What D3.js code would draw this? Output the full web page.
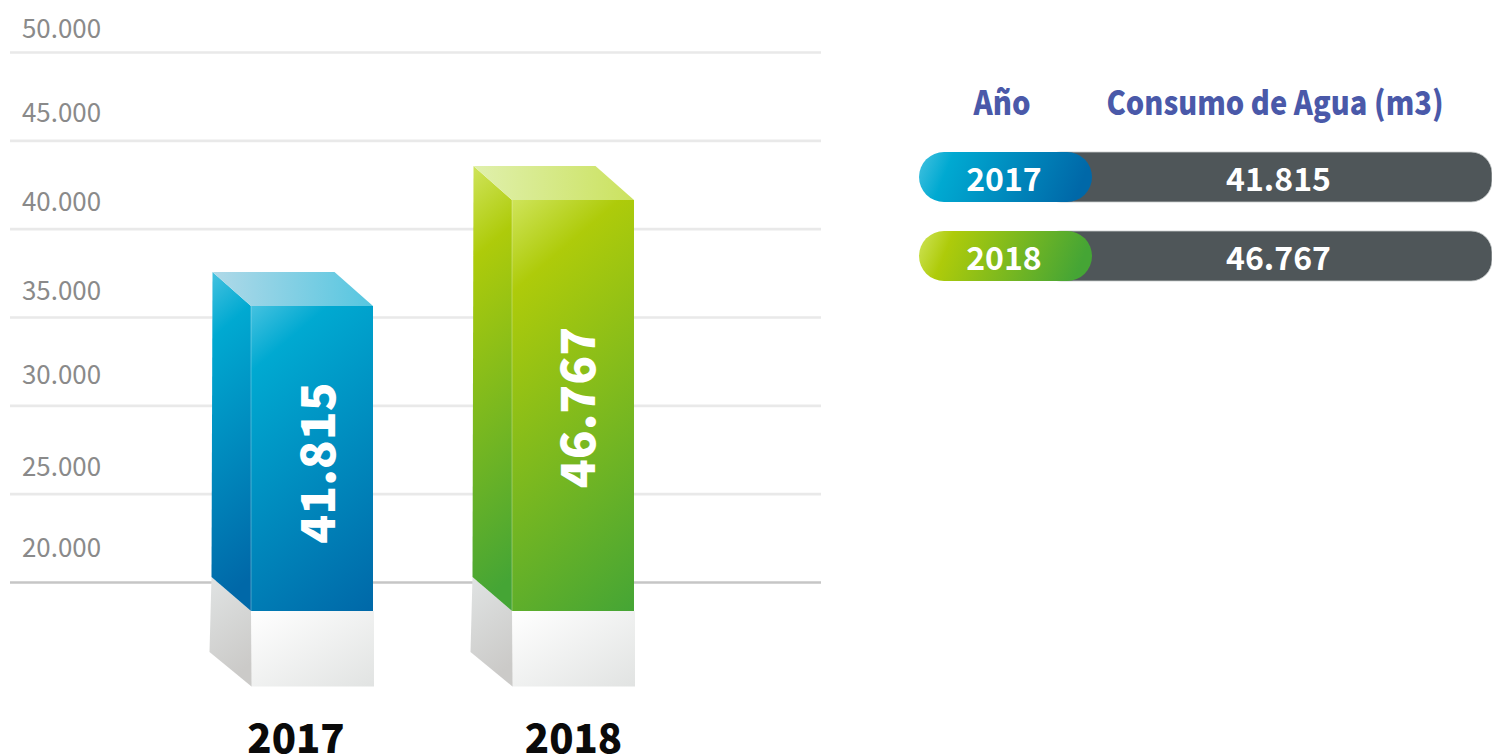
<!DOCTYPE html>
<html><head><meta charset="utf-8">
<script src="https://cdn.jsdelivr.net/npm/d3@7/dist/d3.min.js"></script>
<style>
html,body{margin:0;padding:0;background:#fff;overflow:hidden}
svg{display:block}
text{font-family:"Noto Sans CJK SC","Noto Sans",sans-serif}
</style></head><body>
<script>
const years = ["2017", "2018"];
const consumption = [41815, 46767];
const axisTicks = [20000, 25000, 30000, 35000, 40000, 45000, 50000];
const tableHeaders = ["Año", "Consumo de Agua (m3)"];

const W = 1492, H = 756;
const svg = d3.select("body").append("svg").attr("width", W).attr("height", H);
const defs = svg.append("defs");
const fmt = d3.formatLocale({decimal: ",", thousands: ".", grouping: [3], currency: ["", ""]}).format(",");

function grad(id, stops, x2 = 1, y2 = 1) {
  const g = defs.append("linearGradient").attr("id", id)
    .attr("x1", 0).attr("y1", 0).attr("x2", x2).attr("y2", y2);
  stops.forEach(([o, c]) => g.append("stop").attr("offset", o).attr("stop-color", c));
}
// gradient in page space, running from a corner along a fixed slanted direction
function slantGrad(id, colors, x0, y0, w, h, midDist) {
  const ux = 0.65, uy = 0.76, len = w * ux + h * uy;
  const g = defs.append("linearGradient").attr("id", id).attr("gradientUnits", "userSpaceOnUse")
    .attr("x1", x0).attr("y1", y0).attr("x2", x0 + ux * len).attr("y2", y0 + uy * len);
  [[0, colors[0]], [midDist / len, colors[1]], [1, colors[2]]].forEach(([o, c]) =>
    g.append("stop").attr("offset", o).attr("stop-color", c));
}
const palette = [
  {front: ["#45c2e0", "#00a9d1", "#0068a8"], top: ["#b0d9e8", "#55c6e0"], mid: 50},
  {front: ["#cfe45a", "#aecb0a", "#45a535"], top: ["#e0f0ad", "#cbe25f"], mid: 70}
];
palette.forEach((p, i) => {
  grad("top" + i, [[0, p.top[0]], [1, p.top[1]]], 1, 0);
  grad("pill" + i, [[0, p.front[0]], [0.2, p.front[1]], [1, p.front[2]]], 1, 0.12);
});
grad("plinthFront", [[0, "#ffffff"], [1, "#e1e3e2"]]);
grad("plinthSide", [[0, "#e0e3e3"], [1, "#cbcac8"]], 0.3, 1);

// axis: gridlines with labels sitting above each line
const y = d3.scaleLinear().domain([20000, 50000]).range([582, 52]);
const labelY = d3.scaleOrdinal().domain(axisTicks).range([545, 464, 372, 288, 199, 110, 26]);
const axis = svg.append("g").attr("transform", "translate(10,0)")
  .call(d3.axisRight(y).tickValues(axisTicks).tickSize(811).tickFormat(fmt));
axis.select(".domain").remove();
axis.selectAll(".tick line").attr("stroke", d => d === 20000 ? "#c6c6c6" : "#e9e9e9").attr("stroke-width", 2.6);
axis.selectAll(".tick text")
  .attr("x", 12).attr("text-anchor", "start").attr("dy", 0)
  .attr("y", function (d) { return labelY(d) - y(d); })
  .attr("dominant-baseline", "central")
  .attr("fill", "#8a8a8a").style("font-size", "25.9px").style("font-family", '"Noto Sans CJK SC"');

// pictorial bars: value → top of the front face
const barTop = d3.scaleLinear().domain(consumption).range([306, 200]);
const barX = d3.scaleOrdinal().domain(years).range([251, 512]);
const barW = 122, barBase = 611, plinthBase = 686.5, dx = 38.5, dy = 34;
const poly = pts => pts.map(p => p.join(",")).join(" ");

const bars = svg.selectAll("g.bar").data(years).join("g").attr("class", "bar");
bars.each(function (yr, i) {
  const g = d3.select(this), x = barX(yr), t = barTop(consumption[i]), p = palette[i];
  slantGrad("front" + i, p.front, x, t, barW, barBase - t, p.mid);
  slantGrad("side" + i, p.front, x - dx, t - dy, dx, barBase - t, p.mid);
  g.append("polygon").attr("points", poly([[x, barBase], [x + barW + 1, barBase], [x + barW + 1, plinthBase], [x, plinthBase]]))
    .attr("fill", "url(#plinthFront)");
  g.append("polygon").attr("points", poly([[x - dx - 1, barBase - dy], [x, barBase], [x + 0.5, plinthBase], [x - dx - 3, plinthBase - 34.5]]))
    .attr("fill", "url(#plinthSide)");
  g.append("polygon").attr("points", poly([[x - dx, t - dy], [x, t], [x, barBase], [x - dx - 1, barBase - dy]]))
    .attr("fill", `url(#side${i})`);
  g.append("polygon").attr("points", poly([[x - dx, t - dy], [x + barW - dx, t - dy], [x + barW, t], [x, t]]))
    .attr("fill", `url(#top${i})`);
  g.append("rect").attr("x", x).attr("y", t).attr("width", barW).attr("height", barBase - t)
    .attr("fill", `url(#front${i})`);
  g.append("line").attr("x1", x).attr("x2", x).attr("y1", t).attr("y2", barBase)
    .attr("stroke", "#fff").attr("stroke-opacity", 0.3).attr("stroke-width", 1);
  const labelCy = [463, 407.5][i], labelCx = x + [63, 62][i];
  g.append("text").attr("transform", `translate(${labelCx},${labelCy}) rotate(-90)`)
    .attr("text-anchor", "middle").attr("dominant-baseline", "central")
    .attr("fill", "#fff").attr("font-weight", 900).attr("font-size", 47.5).text(fmt(consumption[i]));
});
svg.selectAll("text.cat").data(years).join("text").attr("class", "cat")
  .attr("x", (d, i) => [296, 573.5][i]).attr("y", 735.5)
  .attr("text-anchor", "middle").attr("dominant-baseline", "central")
  .attr("fill", "#0a0a0a").attr("font-weight", 900).attr("font-size", 40).text(d => d);

// table
const rowY = d3.scalePoint().domain(years).range([177, 256]);
svg.selectAll("text.hdr").data(tableHeaders).join("text").attr("class", "hdr")
  .attr("x", (d, i) => [1002, 1275][i]).attr("y", 101)
  .attr("text-anchor", "middle").attr("dominant-baseline", "central")
  .attr("fill", "#4a59a9").attr("font-weight", 900).attr("font-size", 33)
  .attr("textLength", (d, i) => [57, 337][i]).attr("lengthAdjust", "spacingAndGlyphs").text(d => d);
const rows = svg.selectAll("g.row").data(years).join("g").attr("class", "row");
rows.each(function (yr, i) {
  const g = d3.select(this), cy = rowY(yr);
  g.append("rect").attr("x", 1040).attr("y", cy - 25).attr("width", 452).attr("height", 50).attr("rx", 21)
    .attr("fill", "#4f5659").attr("stroke", "#c9cdcd").attr("stroke-width", 0.8);
  g.append("rect").attr("x", 919).attr("y", cy - 25).attr("width", 173).attr("height", 50).attr("rx", 25)
    .attr("fill", `url(#pill${i})`);
  g.append("text").attr("x", 1004).attr("y", cy).attr("text-anchor", "middle").attr("dominant-baseline", "central")
    .attr("fill", "#fff").attr("font-weight", 700).attr("font-size", 32).text(yr);
  g.append("text").attr("x", 1278.5).attr("y", cy).attr("text-anchor", "middle").attr("dominant-baseline", "central")
    .attr("fill", "#fff").attr("font-weight", 700).attr("font-size", 32).text(fmt(consumption[i]));
});
</script>
</body></html>
